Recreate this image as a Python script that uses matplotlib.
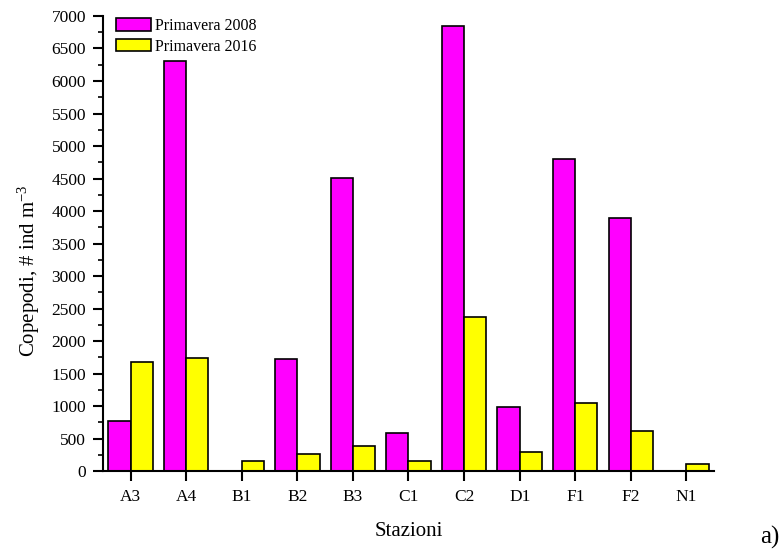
import numpy as np
import matplotlib
matplotlib.use('Agg')
import matplotlib.pyplot as plt
from matplotlib.ticker import MultipleLocator

# station data, copepods (# ind m^-3)
stazioni = ['A3', 'A4', 'B1', 'B2', 'B3', 'C1', 'C2', 'D1', 'F1', 'F2', 'N1']
prim_2008 = [770, 6300, 0, 1720, 4510, 590, 6840, 980, 4800, 3900, 0]
prim_2016 = [1680, 1740, 150, 270, 390, 160, 2370, 300, 1050, 620, 110]

plt.rcParams['font.family'] = ['Liberation Serif', 'DejaVu Serif']
plt.rcParams['mathtext.default'] = 'regular'

fig = plt.figure(figsize=(7.84, 5.51), dpi=100)
ax = fig.add_axes([0.131, 0.145, 0.780, 0.826])

x = np.arange(len(stazioni))
w = 0.4
ax.bar(x - w / 2, prim_2008, w, color='#ff00ff', edgecolor='black', linewidth=1.2,
       label='Primavera 2008')
ax.bar(x + w / 2, prim_2016, w, color='#ffff00', edgecolor='black', linewidth=1.2,
       label='Primavera 2016')

ax.set_xlim(-0.5, 10.5)
ax.set_ylim(0, 7000)
ax.set_xticks(x)
ax.set_xticklabels(stazioni)
ax.yaxis.set_major_locator(MultipleLocator(500))
ax.yaxis.set_minor_locator(MultipleLocator(250))

for s in ['top', 'right']:
    ax.spines[s].set_visible(False)
for s in ['left', 'bottom']:
    ax.spines[s].set_linewidth(1.5)
ax.tick_params(axis='both', which='major', direction='out', length=7, width=1.5,
               labelsize=12.5)
ax.tick_params(axis='x', which='major', pad=6)
ax.tick_params(axis='y', which='major', pad=5)
ax.tick_params(axis='y', which='minor', direction='out', length=3.5, width=1.2)

ax.set_ylabel('Copepodi, # ind m$^{-3}$', fontsize=15)
ax.yaxis.set_label_coords(-0.0995, 0.44)
ax.set_xlabel('Stazioni', fontsize=15)
ax.xaxis.set_label_coords(0.5, -0.112)

ax.legend(loc='upper left', bbox_to_anchor=(0.021, 0.9956), frameon=False, fontsize=11.5,
          handlelength=2.2, handleheight=0.8, handletextpad=0.3, labelspacing=0.3,
          borderaxespad=0.0, borderpad=0.0)

fig.text(760 / 784, 1 - 537 / 551, 'a)', fontsize=18, ha='left', va='center')

fig.savefig('out.png', dpi=100)
